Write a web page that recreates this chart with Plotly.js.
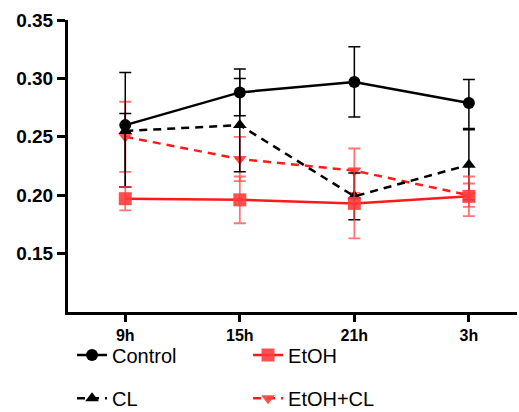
<!DOCTYPE html>
<html>
<head>
<meta charset="utf-8">
<script src="https://cdn.plot.ly/plotly-3.0.1.min.js"></script>
<style>html,body{margin:0;padding:0;background:#fff;}#chart{width:519px;height:412px;}</style>
</head>
<body>
<div id="chart"></div>
<script>
const timepoints = ["9h", "15h", "21h", "3h"];

const controlMean = [0.260, 0.288, 0.297, 0.279];
const controlErrPlus = [0.045, 0.020, 0.030, 0.020];
const controlErrMinus = [0.053, 0.020, 0.030, 0.022];

const clMean = [0.255, 0.260, 0.199, 0.226];
const clErrPlus = [0.015, 0.040, 0.020, 0.030];
const clErrMinus = [0.048, 0.040, 0.020, 0.030];

const etohMean = [0.197, 0.196, 0.193, 0.199];
const etohErr = [0.010, 0.020, 0.030, 0.017];

const etohClMean = [0.250, 0.231, 0.221, 0.200];
const etohClErr = [0.030, 0.019, 0.019, 0.010];

const redLine = "#ff1a1a";
const redMarker = "rgba(255,60,60,0.9)";
const redErr = "rgba(255,70,70,0.75)";

const traces = [
  {
    x: timepoints, y: etohClMean, name: "EtOH+CL", legend: "legend2",
    mode: "lines+markers",
    line: {color: redLine, width: 2.5, dash: "8px,6px"},
    marker: {symbol: "triangle-down", size: 12, color: redMarker},
    error_y: {type: "data", array: etohClErr, visible: true, color: redErr, thickness: 1.8, width: 6}
  },
  {
    x: timepoints, y: clMean, name: "CL", legend: "legend2",
    mode: "lines+markers",
    line: {color: "#000", width: 2.5, dash: "8px,6px"},
    marker: {symbol: "triangle-up", size: 12, color: "#000"},
    error_y: {type: "data", symmetric: false, array: clErrPlus, arrayminus: clErrMinus, visible: true, color: "#000", thickness: 1.5, width: 6}
  },
  {
    x: timepoints, y: controlMean, name: "Control", legend: "legend",
    mode: "lines+markers",
    line: {color: "#000", width: 2.5},
    marker: {symbol: "circle", size: 12, color: "#000"},
    error_y: {type: "data", symmetric: false, array: controlErrPlus, arrayminus: controlErrMinus, visible: true, color: "#000", thickness: 1.5, width: 6}
  },
  {
    x: timepoints, y: etohMean, name: "EtOH", legend: "legend",
    mode: "lines+markers",
    line: {color: redLine, width: 2.5},
    marker: {symbol: "square", size: 13, color: redMarker},
    error_y: {type: "data", array: etohErr, visible: true, color: redErr, thickness: 1.8, width: 6}
  }
];

const legendCommon = {
  orientation: "h", xanchor: "left", yanchor: "middle",
  font: {family: "Liberation Sans, Arial, sans-serif", size: 20, color: "#000"},
  bgcolor: "rgba(0,0,0,0)", entrywidth: 131
};

const layout = {
  width: 519, height: 412,
  margin: {l: 68, r: 2, t: 20, b: 100, autoexpand: false},
  paper_bgcolor: "#fff", plot_bgcolor: "#fff",
  showlegend: true,
  legend: Object.assign({}, legendCommon, {x: 0.009, y: -0.147, traceorder: "normal"}),
  legend2: Object.assign({}, legendCommon, {x: 0.009, y: -0.295, traceorder: "reversed"}),
  xaxis: {
    type: "category", range: [-0.5, 3.42],
    showline: true, linecolor: "#000", linewidth: 3,
    ticks: "outside", ticklen: 7, tickwidth: 3, tickcolor: "#000",
    showgrid: false, zeroline: false,
    tickfont: {family: "Liberation Sans, Arial, sans-serif", size: 16, color: "#000", weight: "bold"}
  },
  yaxis: {
    range: [0.1, 0.35],
    tickvals: [0.15, 0.20, 0.25, 0.30, 0.35],
    ticktext: ["0.15", "0.20", "0.25", "0.30", "0.35"],
    showline: true, linecolor: "#000", linewidth: 3,
    ticks: "outside", ticklen: 8, tickwidth: 3, tickcolor: "#000",
    showgrid: false, zeroline: false,
    tickfont: {family: "Liberation Sans, Arial, sans-serif", size: 19, color: "#000", weight: "bold"}
  }
};

Plotly.newPlot("chart", traces, layout, {displayModeBar: false, staticPlot: true});
</script>
</body>
</html>
